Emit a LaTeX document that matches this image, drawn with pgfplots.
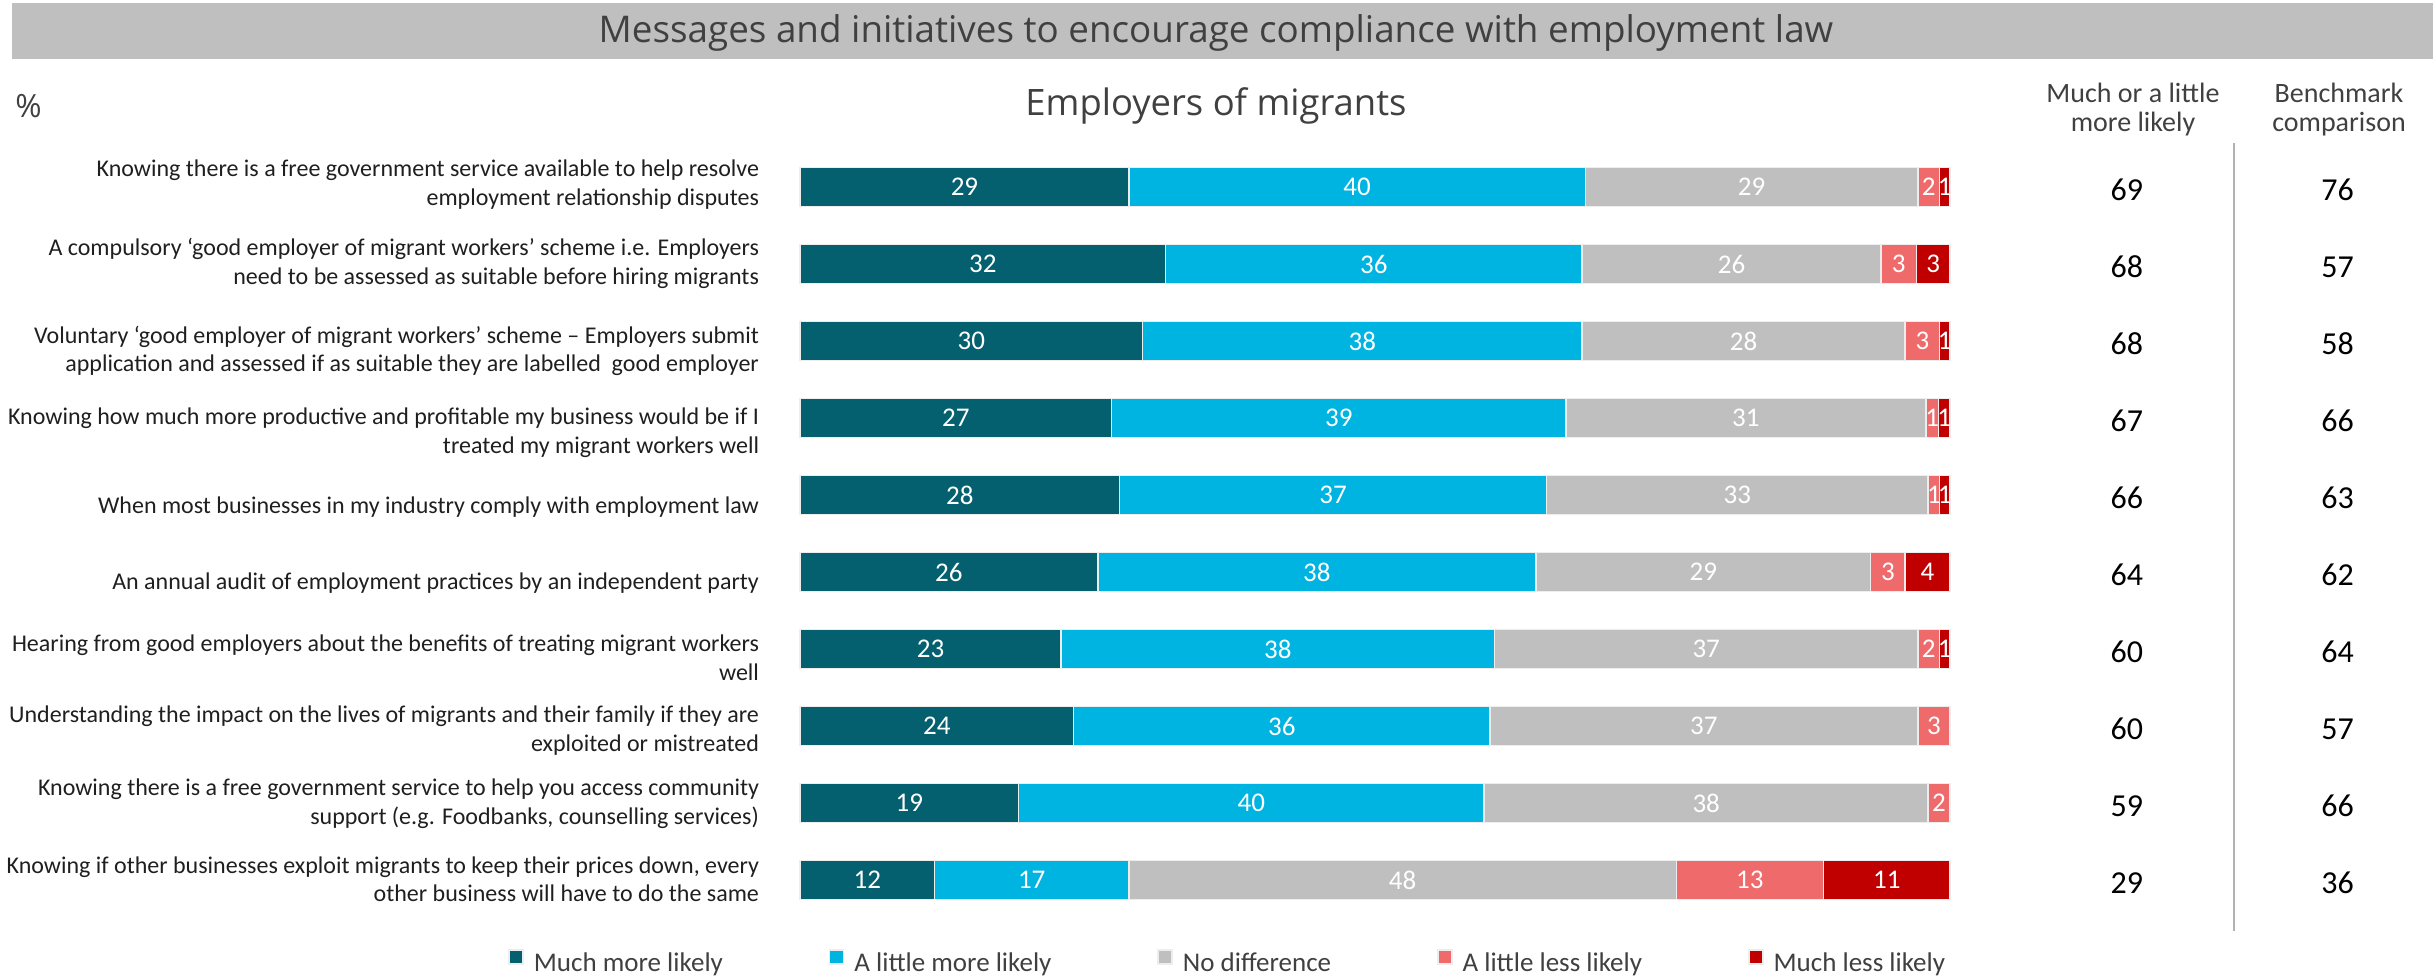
\documentclass[border=0pt]{standalone}
\usepackage{fontspec}
\setmainfont{Carlito}
\newfontfamily\osans{Open Sans}
\usepackage{pgfplots}
\usepackage{pgfplotstable}
\pgfplotsset{compat=1.18}
\definecolor{cA}{HTML}{04606F}
\definecolor{cB}{HTML}{00B4E1}
\definecolor{cC}{HTML}{BFBFBF}
\definecolor{cD}{HTML}{EE6A6B}
\definecolor{cE}{HTML}{C00000}
\definecolor{txt}{HTML}{404040}
\definecolor{bord}{HTML}{EDEDED}

\pgfplotstableread{
y a    b    c    d    e    la lb lc ld le m1 m2
0 28.6 39.7 28.9 1.9  0.9  29 40 29 2  1  69 76
1 31.8 36.2 26.0 3.1  2.9  32 36 26 3  3  68 57
2 29.8 38.2 28.1 3.0  0.9  30 38 28 3  1  68 58
3 27.1 39.5 31.3 1.1  1.0  27 39 31 1  1  67 66
4 27.8 37.1 33.2 1.0  0.9  28 37 33 1  1  66 63
5 25.9 38.1 29.1 3.0  3.9  26 38 29 3  4  64 62
6 22.7 37.7 36.8 1.9  0.9  23 38 37 2  1  60 64
7 23.8 36.2 37.2 2.8  0.0  24 36 37 3  0  60 57
8 19.0 40.5 38.6 1.9  0.0  19 40 38 2  0  59 66
9 11.7 16.9 47.6 12.8 11.0 12 17 48 13 11 29 36
}\data

\begin{document}
\begin{tikzpicture}
\path[use as bounding box] (-400pt,-28.75pt) rectangle (816.5pt,459.25pt);
\fill[cC] (-394pt,429.9pt) rectangle (816.5pt,457.75pt);
\node[anchor=base, inner sep=0pt, font=\osans\fontsize{18.4}{22}\selectfont, text=txt] at (208pt,438.2pt) {Messages and initiatives to encourage compliance with employment law};
\node[anchor=base, inner sep=0pt, font=\osans\fontsize{18.2}{21}\selectfont, text=txt] at (208pt,401.45pt) {Employers of migrants};
\node[anchor=base west, inner sep=0pt, font=\osans\fontsize{16}{19}\selectfont, text=txt] at (-392.5pt,400.25pt) {\%};
\node[anchor=base, inner sep=0pt, font=\fontsize{14}{17}\selectfont, text=txt] at (666.5pt,407.9pt) {Much or a little};
\node[anchor=base, inner sep=0pt, font=\fontsize{14}{17}\selectfont, text=txt] at (666.5pt,393.4pt) {more likely};
\node[anchor=base, inner sep=0pt, font=\fontsize{14}{17}\selectfont, text=txt] at (769.5pt,407.9pt) {Benchmark};
\node[anchor=base, inner sep=0pt, font=\fontsize{14}{17}\selectfont, text=txt] at (769.5pt,393.4pt) {comparison};
\draw[black!30, line width=1.1pt] (717pt,387.9pt) -- (717pt,-6.25pt);

\begin{axis}[
  at={(0,0)}, anchor=south west, scale only axis,
  width=575pt, height=385pt,
  xmin=0, xmax=100, ymin=-0.5, ymax=9.5, y dir=reverse,
  xbar stacked, bar width=19.6pt,
  axis line style={draw=none}, tick style={draw=none}, major tick length=0pt,
  xtick=\empty,
  ytick={-0.03,0.99,2.13,3.19,4.16,5.14,6.11,7.06,8.01,8.99},
  yticklabels={
    {Knowing there is a free government service available to help resolve\\employment relationship disputes},
    {A compulsory ‘good employer of migrant workers’ scheme i.e. Employers\\need to be assessed as suitable before hiring migrants},
    {Voluntary ‘good employer of migrant workers’ scheme – Employers submit\\application and assessed if as suitable they are labelled\ \ good employer},
    {Knowing how much more productive and profitable my business would be if I\\treated my migrant workers well},
    {When most businesses in my industry comply with employment law},
    {An annual audit of employment practices by an independent party},
    {Hearing from good employers about the benefits of treating migrant workers\\well},
    {Understanding the impact on the lives of migrants and their family if they are\\exploited or mistreated},
    {Knowing there is a free government service to help you access community\\support (e.g. Foodbanks, counselling services)},
    {Knowing if other businesses exploit migrants to keep their prices down, every\\other business will have to do the same}},
  yticklabel style={align=right, font=\fontsize{12}{14.3}\selectfont, text=black!88, inner xsep=0pt, xshift=-20.3pt},
  legend columns=5,
  legend image code/.code={\fill[#1] (0pt,0pt) rectangle (7pt,7pt);},
  legend style={draw=none, fill=none, at={(-0.2539,-0.0565)}, anchor=west, inner sep=0pt,
    font=\fontsize{13.5}{16}\selectfont, nodes={inner sep=0pt, text=txt},
    /tikz/every odd column/.append style={column sep=5pt},
    /tikz/every even column/.append style={column sep=53pt}},
  clip=false,
]
\addplot[fill=cA, draw=bord, line width=0.75pt] table[x=a, y=y] {\data};
\addplot[fill=cB, draw=bord, line width=0.75pt] table[x=b, y=y] {\data};
\addplot[fill=cC, draw=bord, line width=0.75pt] table[x=c, y=y] {\data};
\addplot[fill=cD, draw=bord, line width=0.75pt] table[x=d, y=y] {\data};
\addplot[fill=cE, draw=bord, line width=0.75pt] table[x=e, y=y] {\data};
\legend{Much more likely, A little more likely, No difference, A little less likely, Much less likely}
\end{axis}

\begin{axis}[
  at={(0,0)}, anchor=south west, scale only axis,
  width=575pt, height=385pt,
  xmin=0, xmax=100, ymin=-0.5, ymax=9.5, y dir=reverse,
  hide axis, clip=false,
  nodes near coords, point meta=explicit symbolic,
  every node near coord/.append style={anchor=center, font=\fontsize{13.5}{15}\selectfont, text=white, inner sep=0pt},
]
\addplot[draw=none, mark=none] table[x expr=\thisrow{a}/2, y=y, meta=la] {\data};
\addplot[draw=none, mark=none] table[x expr=\thisrow{a}+\thisrow{b}/2, y=y, meta=lb] {\data};
\addplot[draw=none, mark=none] table[x expr=\thisrow{a}+\thisrow{b}+\thisrow{c}/2, y=y, meta=lc] {\data};
\addplot[draw=none, mark=none] table[x expr=\thisrow{a}+\thisrow{b}+\thisrow{c}+\thisrow{d}/2, y=y, meta=ld] {\data};
\addplot[draw=none, mark=none, skip coords between index={7}{9}] table[x expr=100-\thisrow{e}/2, y=y, meta=le] {\data};
\addplot[draw=none, mark=none, every node near coord/.append style={text=black, font=\fontsize{16}{19}\selectfont, yshift=-1.5pt}] table[x expr=115.37, y=y, meta=m1] {\data};
\addplot[draw=none, mark=none, every node near coord/.append style={text=black, font=\fontsize{16}{19}\selectfont, yshift=-1.5pt}] table[x expr=133.71, y=y, meta=m2] {\data};
\end{axis}
\end{tikzpicture}
\end{document}
